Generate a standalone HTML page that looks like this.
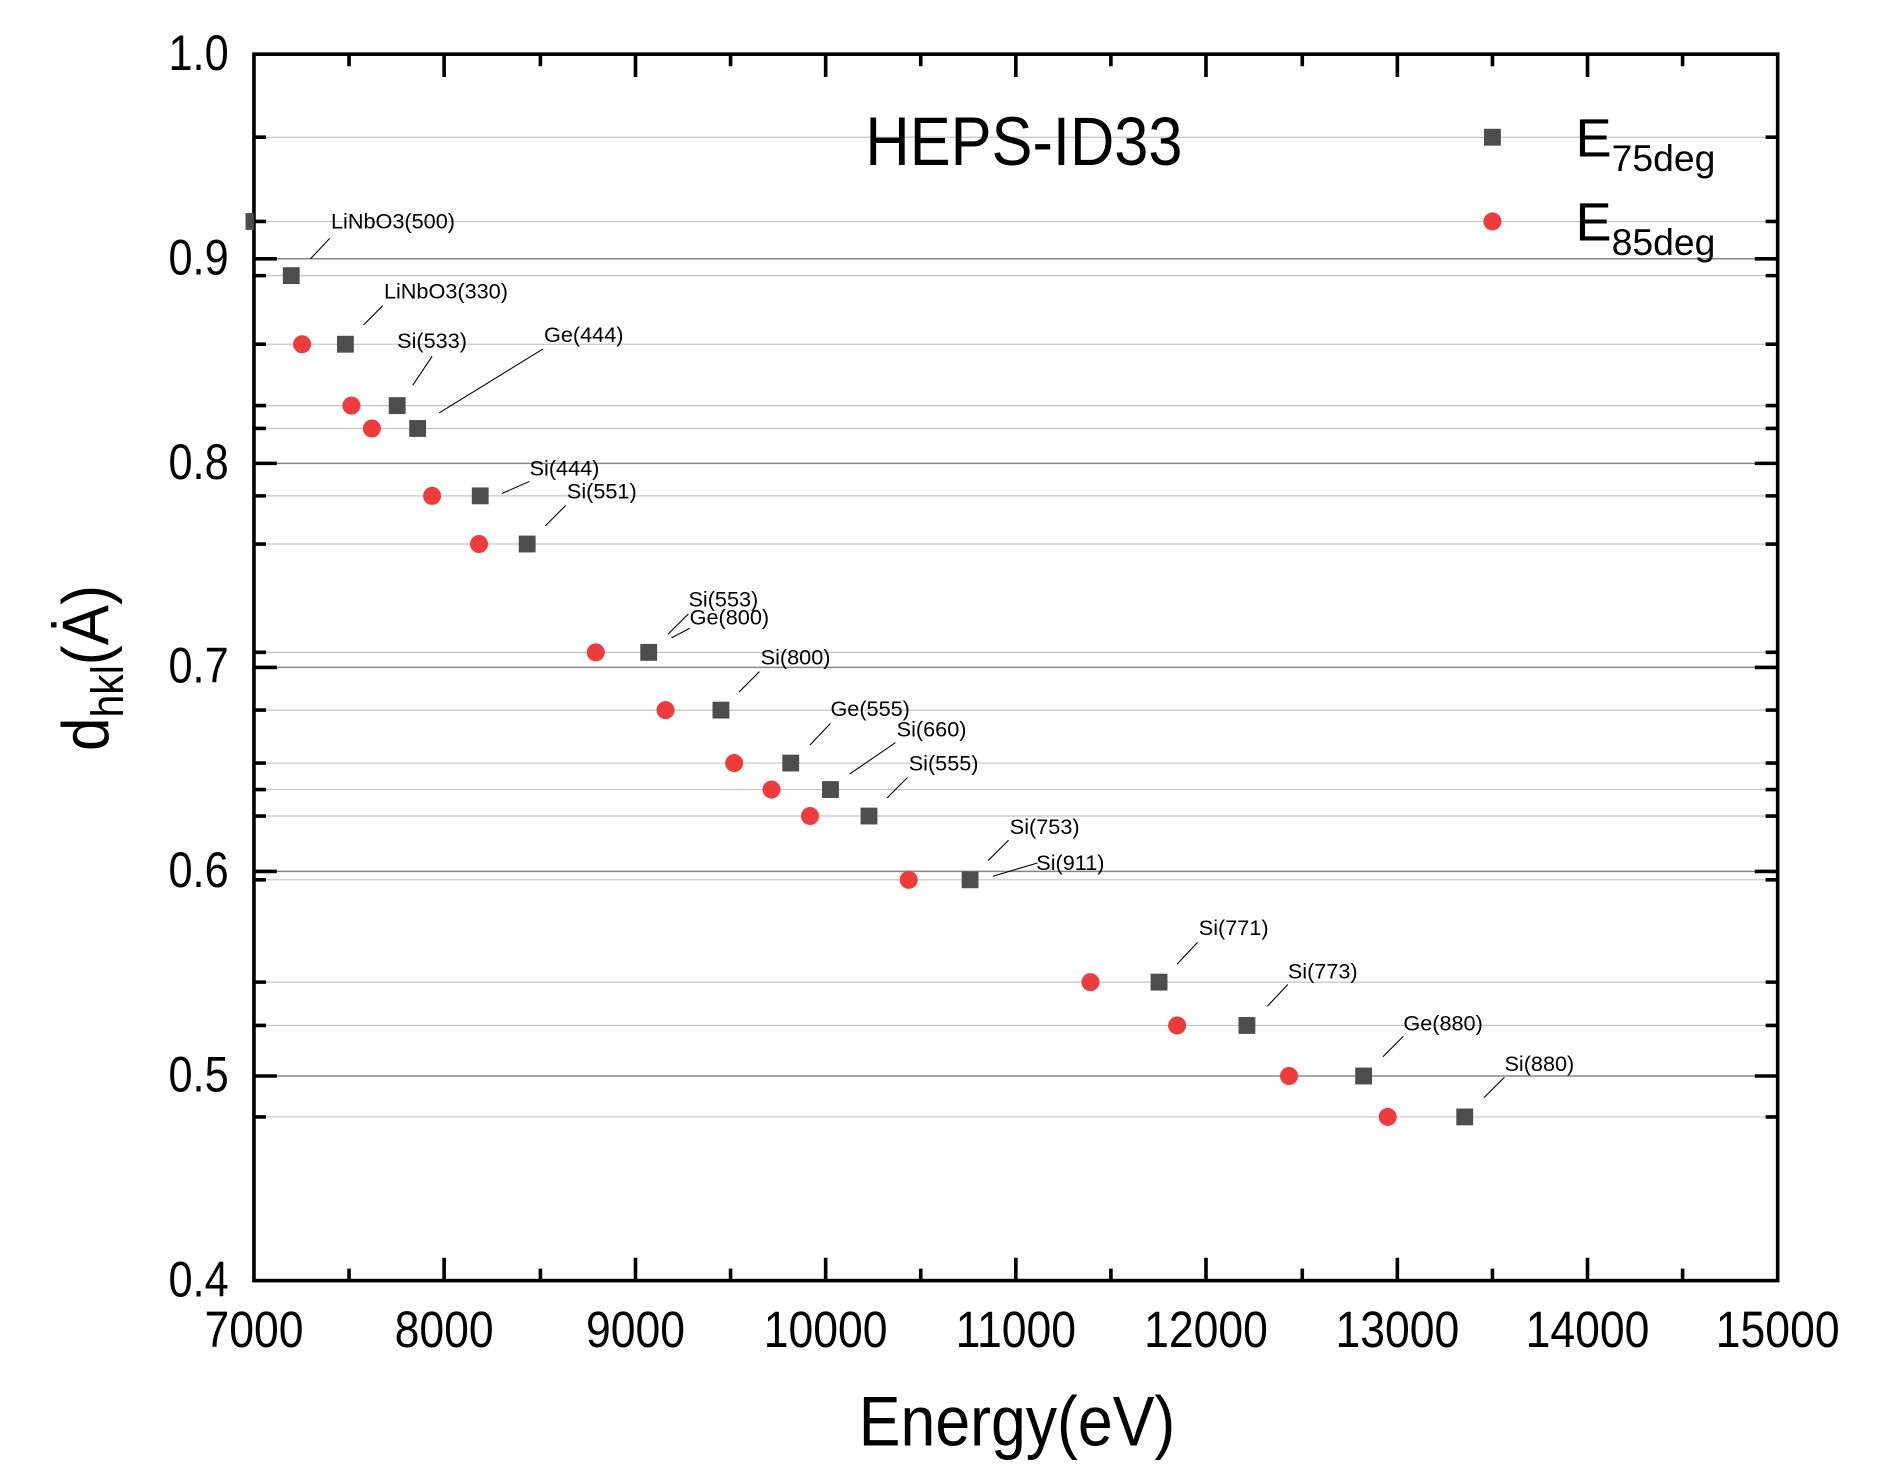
<!DOCTYPE html>
<html><head><meta charset="utf-8"><style>html,body{margin:0;padding:0;background:#fff}svg{display:block}</style></head>
<body>
<svg width="1886" height="1478" viewBox="0 0 1567 1228" xmlns="http://www.w3.org/2000/svg" font-family="Liberation Sans, Arial, sans-serif">
<g stroke="#c4c4c4" stroke-width="1">
<line x1="211" x2="1477" y1="114" y2="114"/><line x1="211" x2="1477" y1="184" y2="184"/>
<line x1="211" x2="1477" y1="229" y2="229"/><line x1="211" x2="1477" y1="286" y2="286"/>
<line x1="211" x2="1477" y1="337" y2="337"/><line x1="211" x2="1477" y1="356" y2="356"/>
<line x1="211" x2="1477" y1="412" y2="412"/><line x1="211" x2="1477" y1="452" y2="452"/>
<line x1="211" x2="1477" y1="542" y2="542"/><line x1="211" x2="1477" y1="590" y2="590"/>
<line x1="211" x2="1477" y1="634" y2="634"/><line x1="211" x2="1477" y1="656" y2="656"/>
<line x1="211" x2="1477" y1="678" y2="678"/><line x1="211" x2="1477" y1="731" y2="731"/>
<line x1="211" x2="1477" y1="816" y2="816"/><line x1="211" x2="1477" y1="852" y2="852"/>
<line x1="211" x2="1477" y1="928" y2="928"/>
</g>
<g stroke="#888" stroke-width="1.2">
<line x1="211" x2="1477" y1="215" y2="215"/><line x1="211" x2="1477" y1="385" y2="385"/>
<line x1="211" x2="1477" y1="554.5" y2="554.5"/><line x1="211" x2="1477" y1="724" y2="724"/>
<line x1="211" x2="1477" y1="894" y2="894"/>
</g>
<g stroke="#000" stroke-width="3">
<path d="M211 215h19M211 385h19M211 554.5h19M211 724h19M211 894h19M1477 215h-19M1477 385h-19M1477 554.5h-19M1477 724h-19M1477 894h-19"/>
<path d="M211 114h10M211 184h10M211 229h10M211 286h10M211 337h10M211 356h10M211 412h10M211 452h10M211 542h10M211 590h10M211 634h10M211 656h10M211 678h10M211 731h10M211 816h10M211 852h10M211 928h10
M1477 114h-10M1477 184h-10M1477 229h-10M1477 286h-10M1477 337h-10M1477 356h-10M1477 412h-10M1477 452h-10M1477 542h-10M1477 590h-10M1477 634h-10M1477 656h-10M1477 678h-10M1477 731h-10M1477 816h-10M1477 852h-10M1477 928h-10"/>
<path d="M369 1064v-19M528 1064v-19M686 1064v-19M844 1064v-19M1002 1064v-19M1161 1064v-19M1319 1064v-19
M369 45v19M528 45v19M686 45v19M844 45v19M1002 45v19M1161 45v19M1319 45v19
M290 1064v-10M449 1064v-10M607 1064v-10M765 1064v-10M923 1064v-10M1082 1064v-10M1240 1064v-10M1398 1064v-10
M290 45v10M449 45v10M607 45v10M765 45v10M923 45v10M1082 45v10M1240 45v10M1398 45v10"/>
<rect x="211" y="45" width="1266" height="1019" fill="none"/>
</g>
<g fill="#4d4d4d">
<rect x="204" y="177" width="7" height="14"/>
<rect x="235" y="222" width="14" height="14"/><rect x="280" y="279" width="14" height="14"/>
<rect x="323" y="330" width="14" height="14"/><rect x="340" y="349" width="14" height="14"/>
<rect x="392" y="405" width="14" height="14"/><rect x="431" y="445" width="14" height="14"/>
<rect x="532" y="535" width="14" height="14"/><rect x="592" y="583" width="14" height="14"/>
<rect x="650" y="627" width="14" height="14"/><rect x="683" y="649" width="14" height="14"/>
<rect x="715" y="671" width="14" height="14"/><rect x="799" y="724" width="14" height="14"/>
<rect x="956" y="809" width="14" height="14"/><rect x="1029" y="845" width="14" height="14"/>
<rect x="1126" y="887" width="14" height="14"/><rect x="1210" y="921" width="14" height="14"/>
<rect x="1233" y="107" width="14" height="14"/>
</g>
<g fill="#ee3c3c">
<circle cx="251" cy="286" r="7.5"/><circle cx="292" cy="337" r="7.5"/><circle cx="309" cy="356" r="7.5"/>
<circle cx="359" cy="412" r="7.5"/><circle cx="398" cy="452" r="7.5"/><circle cx="495" cy="542" r="7.5"/>
<circle cx="553" cy="590" r="7.5"/><circle cx="610" cy="634" r="7.5"/><circle cx="641" cy="656" r="7.5"/>
<circle cx="673" cy="678" r="7.5"/><circle cx="755" cy="731" r="7.5"/><circle cx="906" cy="816" r="7.5"/>
<circle cx="978" cy="852" r="7.5"/><circle cx="1071" cy="894" r="7.5"/><circle cx="1153" cy="928" r="7.5"/>
<circle cx="1240" cy="184" r="7.5"/>
</g>
<g stroke="#000" stroke-width="0.9">
<line x1="258" y1="215" x2="274" y2="198"/><line x1="302" y1="270" x2="318" y2="254"/>
<line x1="343" y1="320" x2="359" y2="296"/><line x1="365" y1="343" x2="451" y2="290"/>
<line x1="417" y1="410" x2="440" y2="400"/><line x1="453" y1="437" x2="470" y2="420"/>
<line x1="555" y1="527" x2="572" y2="510"/><line x1="558" y1="530" x2="573" y2="522"/>
<line x1="614" y1="575" x2="631" y2="558"/><line x1="673" y1="619" x2="690" y2="601"/>
<line x1="706" y1="643" x2="744" y2="617"/><line x1="737" y1="663" x2="754" y2="646"/>
<line x1="821" y1="715" x2="838" y2="698"/><line x1="825" y1="728" x2="862" y2="717"/>
<line x1="978" y1="801" x2="995" y2="783"/><line x1="1053" y1="836" x2="1070" y2="818"/>
<line x1="1149" y1="878" x2="1166" y2="861"/><line x1="1233" y1="912" x2="1250" y2="895"/>
</g>
<g font-size="18" fill="#000">
<text x="275" y="190">LiNbO3(500)</text><text x="319" y="248">LiNbO3(330)</text>
<text x="330" y="289">Si(533)</text><text x="452" y="284">Ge(444)</text>
<text x="440" y="395">Si(444)</text><text x="471" y="414">Si(551)</text>
<text x="572" y="504">Si(553)</text><text x="573" y="519">Ge(800)</text>
<text x="632" y="552">Si(800)</text><text x="690" y="595">Ge(555)</text>
<text x="745" y="612">Si(660)</text><text x="755" y="640">Si(555)</text>
<text x="839" y="693">Si(753)</text><text x="861" y="723">Si(911)</text>
<text x="996" y="777">Si(771)</text><text x="1070" y="813">Si(773)</text>
<text x="1166" y="856">Ge(880)</text><text x="1250" y="890">Si(880)</text>
</g>
<g font-size="36" fill="#000" text-anchor="end">
<text transform="translate(190,58) scale(1,1.15)">1.0</text><text transform="translate(190,228) scale(1,1.15)">0.9</text>
<text transform="translate(190,398) scale(1,1.15)">0.8</text><text transform="translate(190,567) scale(1,1.15)">0.7</text>
<text transform="translate(190,737) scale(1,1.15)">0.6</text><text transform="translate(190,907) scale(1,1.15)">0.5</text>
<text transform="translate(190,1077) scale(1,1.15)">0.4</text>
</g>
<g font-size="37" fill="#000" text-anchor="middle">
<text transform="translate(211,1119) scale(1,1.15)">7000</text><text transform="translate(369,1119) scale(1,1.15)">8000</text>
<text transform="translate(528,1119) scale(1,1.15)">9000</text><text transform="translate(686,1119) scale(1,1.15)">10000</text>
<text transform="translate(844,1119) scale(1,1.15)">11000</text><text transform="translate(1002,1119) scale(1,1.15)">12000</text>
<text transform="translate(1161,1119) scale(1,1.15)">13000</text><text transform="translate(1319,1119) scale(1,1.15)">14000</text>
<text transform="translate(1477,1119) scale(1,1.15)">15000</text>
</g>
<text transform="translate(845,1201) scale(1,1.12)" font-size="52" text-anchor="middle">Energy(eV)</text>
<text transform="translate(90,555) rotate(-90) scale(1,1.1)" font-size="50" text-anchor="middle">d<tspan font-size="34" dy="11">hkl</tspan><tspan dy="-11">(Ȧ)</tspan></text>
<text transform="translate(719,137) scale(1,1.12)" font-size="51">HEPS-ID33</text>
<text x="1309" y="130" font-size="45">E<tspan font-size="31" dy="12">75deg</tspan></text>
<text x="1309" y="200" font-size="45">E<tspan font-size="31" dy="12">85deg</tspan></text>
</svg>
</body></html>
